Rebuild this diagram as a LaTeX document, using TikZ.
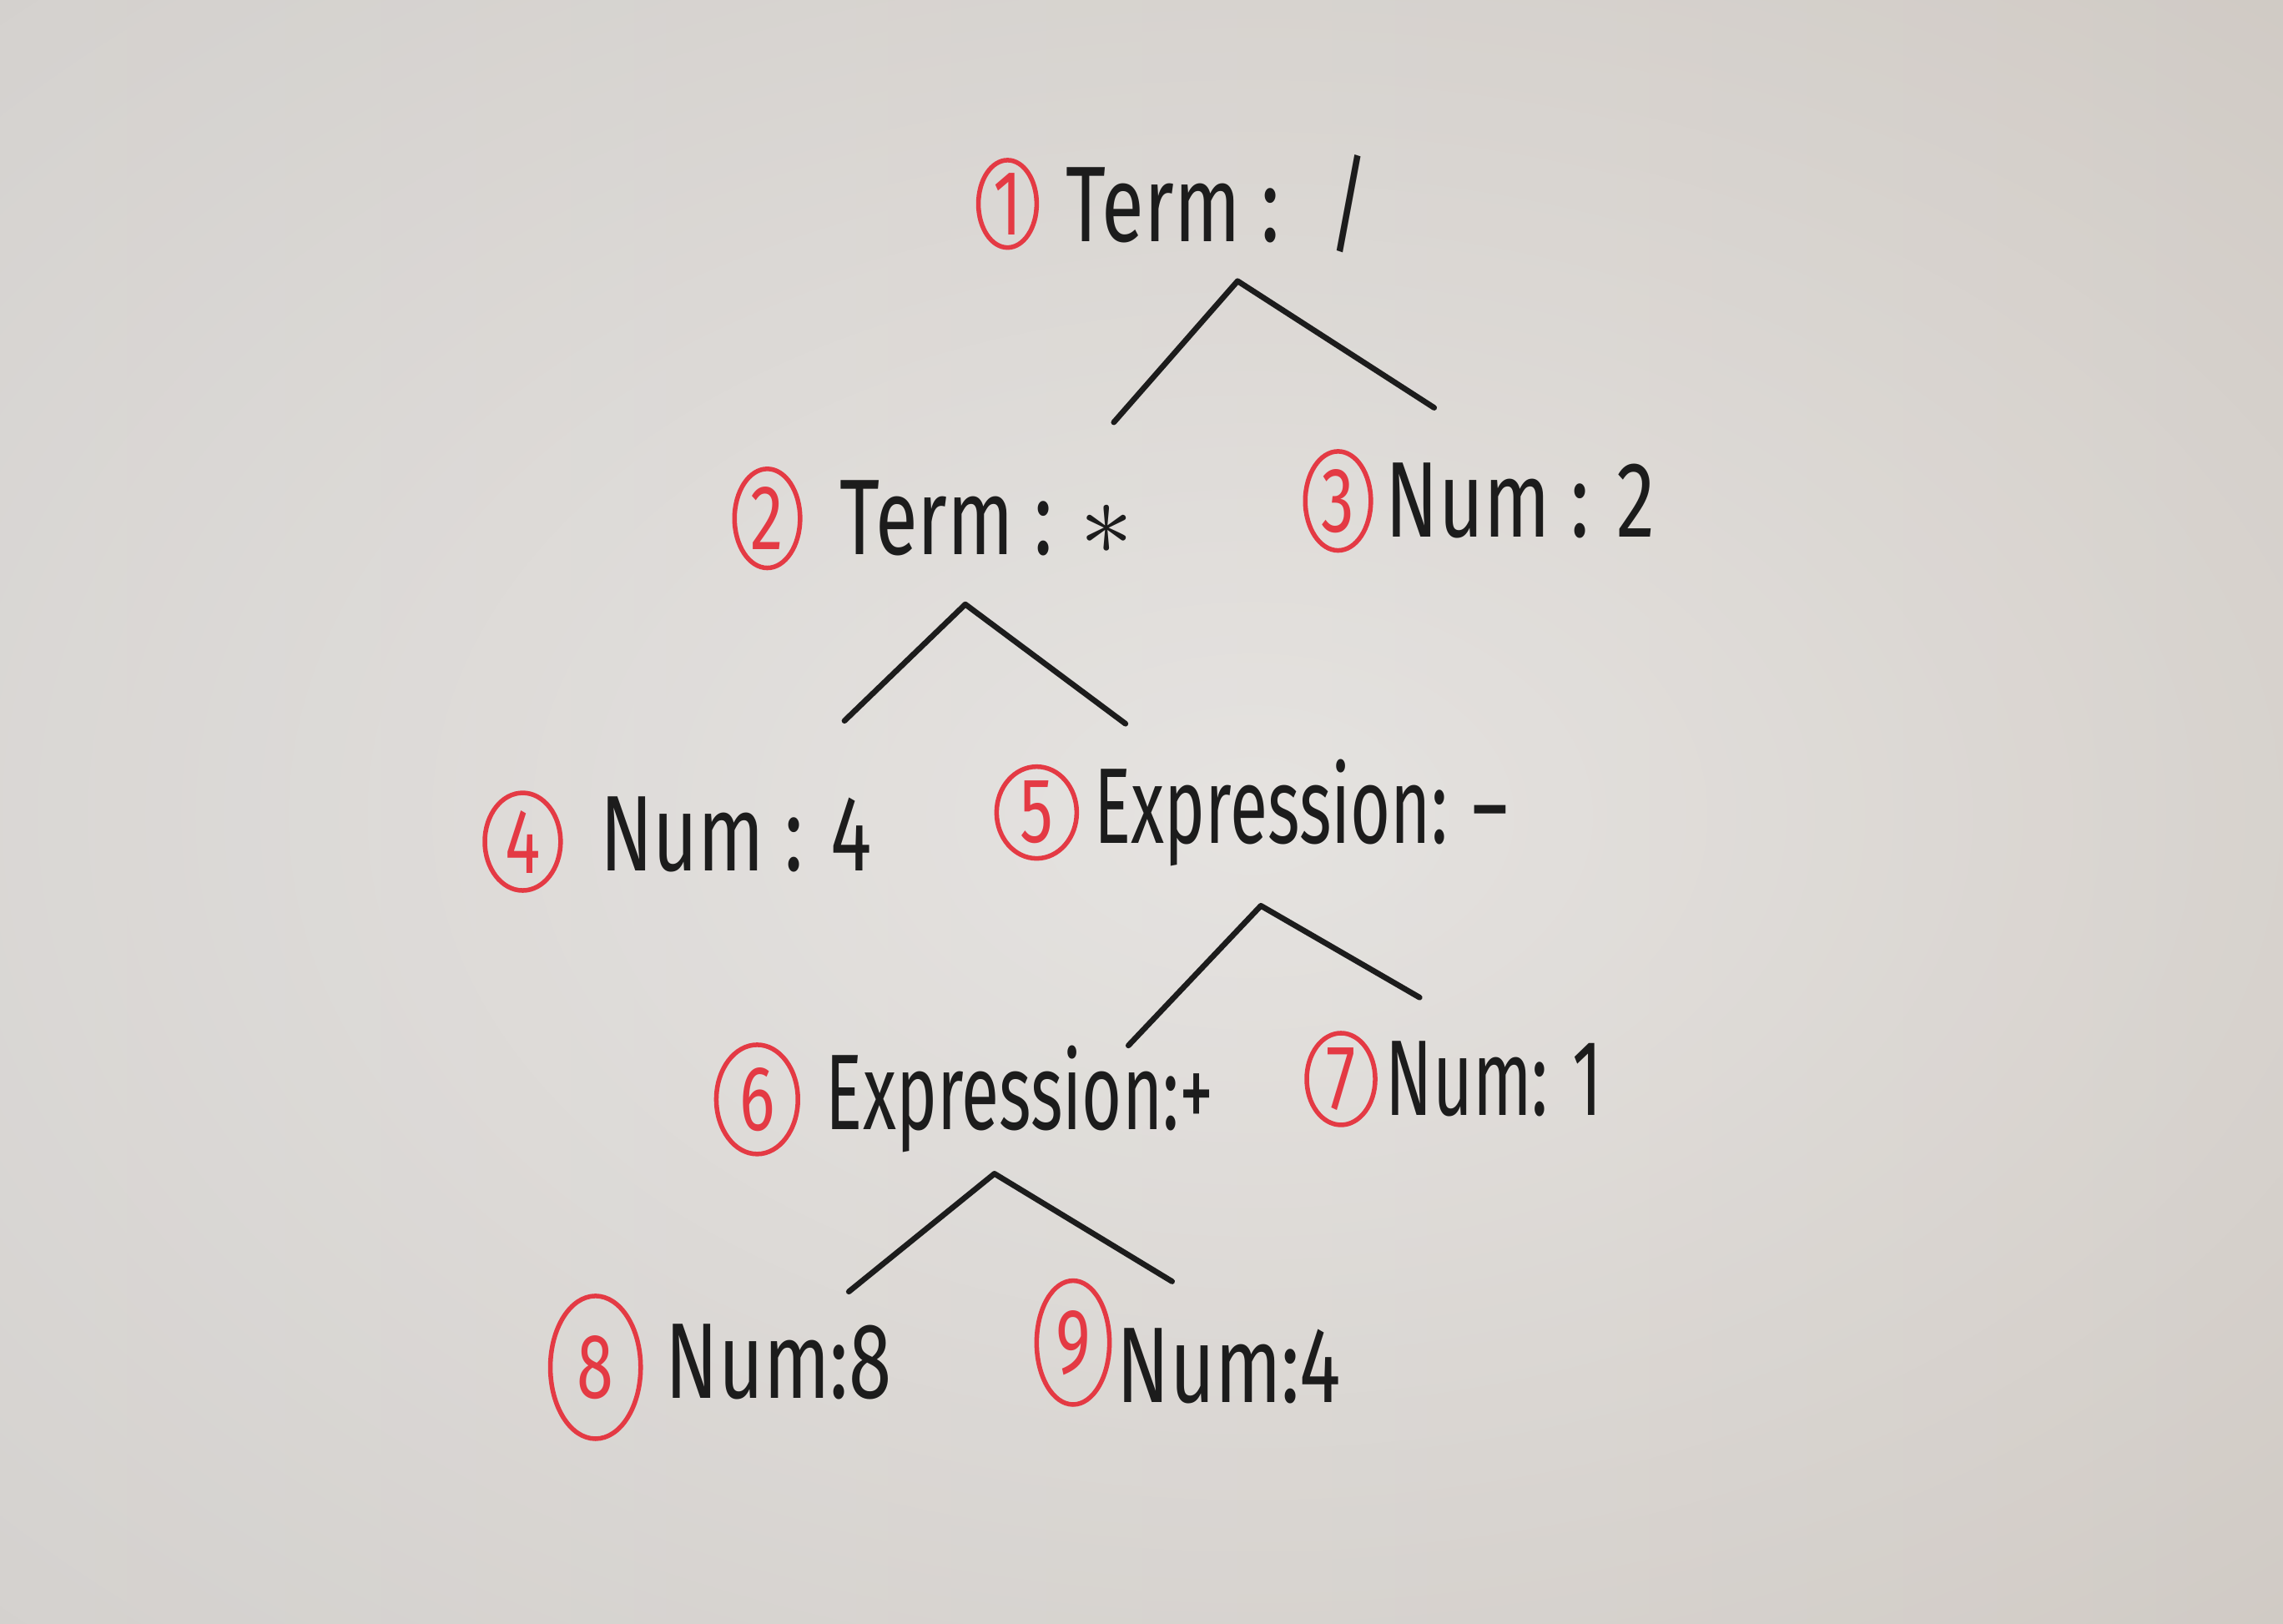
\documentclass[tikz,border=0pt]{standalone}
\usepackage{fontspec}
\setmainfont{Fira Sans}
\newfontfamily\handfont[FakeStretch=0.72]{Fira Sans}
\newfontfamily\handnarrow[FakeStretch=0.64]{Fira Sans}
\usetikzlibrary{shapes.geometric}
\usetikzlibrary{positioning,fadings}
\definecolor{PaperLeft}{RGB}{212,209,206}
\definecolor{PaperRight}{RGB}{206,200,194}
\definecolor{InkRed}{RGB}{228,58,68}
\definecolor{Ink}{RGB}{28,28,28}
\tikzfading[name=glow,inner color=transparent!0,outer color=transparent!100]
\tikzstyle{numring}=[ellipse,draw=InkRed,text=InkRed,line width=0.9pt,inner sep=0pt,font=\handfont\fontsize{18}{18}\selectfont]
\tikzstyle{entry}=[inner sep=0pt,text=Ink,font=\handfont\fontsize{21}{21}\selectfont]
\tikzstyle{tightentry}=[entry,font=\handnarrow\fontsize{21}{21}\selectfont]
\tikzstyle{branch}=[draw=Ink,line width=1.1pt,line cap=round,line join=round]
\tikzset{ringsize/.style 2 args={minimum width=#1,minimum height=#2}}

\begin{document}
\begin{tikzpicture}[x=0.01cm,y=-0.01cm]
    \useasboundingbox (0,0) rectangle (1568,1115);
    \shade[left color=PaperLeft,right color=PaperRight] (0,0) rectangle (1568,1115);
    \fill[white,fill opacity=0.45,path fading=glow] (860,560) ellipse (1250 and 820);

    % numbered rings
    \node [numring,ringsize={0.40cm}{0.60cm}] (r1) at (692,140) {1};
    \node [numring,ringsize={0.45cm}{0.68cm}] (r2) at (527,356) {2};
    \node [numring,ringsize={0.45cm}{0.68cm}] (r3) at (919,344) {3};
    \node [numring,ringsize={0.52cm}{0.67cm}] (r4) at (359,578) {4};
    \node [numring,ringsize={0.55cm}{0.63cm}] (r5) at (712,558) {5};
    \node [numring,ringsize={0.56cm}{0.75cm}] (r6) at (520,755) {6};
    \node [numring,ringsize={0.47cm}{0.63cm}] (r7) at (921,741) {7};
    \node [numring,ringsize={0.62cm}{0.98cm}] (r8) at (409,939) {8};
    \node [numring,ringsize={0.50cm}{0.85cm}] (r9) at (737,922) {9};

    % tree entries
    \node [entry,right=0.18cm of r1] (t1) {Term :\hspace{0.15cm} /};
    \node [entry,right=0.25cm of r2] (t2) {Term : $\ast$};
    \node [entry,right=0.08cm of r3] (t3) {Num : 2};
    \node [entry,right=0.25cm of r4,yshift=0.05cm] (t4) {Num : 4};
    \node [tightentry,right=0.10cm of r5] (t5) {Expression: –};
    \node [tightentry,right=0.17cm of r6] (t6) {Expression:+};
    \node [tightentry,right=0.05cm of r7] (t7) {Num: 1};
    \node [entry,right=0.15cm of r8,yshift=0.04cm] (t8) {Num:8};
    \node [entry,right=0.03cm of r9,yshift=-0.16cm] (t9) {Num:4};

    % branch ends
    \coordinate (a1) at (850,193);
    \coordinate (l1) at (765,290);
    \coordinate (k1) at (985,280);
    \coordinate (a2) at (663,415);
    \coordinate (l2) at (580,495);
    \coordinate (k2) at (773,497);
    \coordinate (a5) at (866,622);
    \coordinate (l5) at (775,718);
    \coordinate (k5) at (975,685);
    \coordinate (a6) at (683,806);
    \coordinate (l6) at (583,887);
    \coordinate (k6) at (805,880);

    \draw [branch] (l1) -- (a1) -- (k1);
    \draw [branch] (l2) -- (a2) -- (k2);
    \draw [branch] (l5) -- (a5) -- (k5);
    \draw [branch] (l6) -- (a6) -- (k6);
\end{tikzpicture}
\end{document}
